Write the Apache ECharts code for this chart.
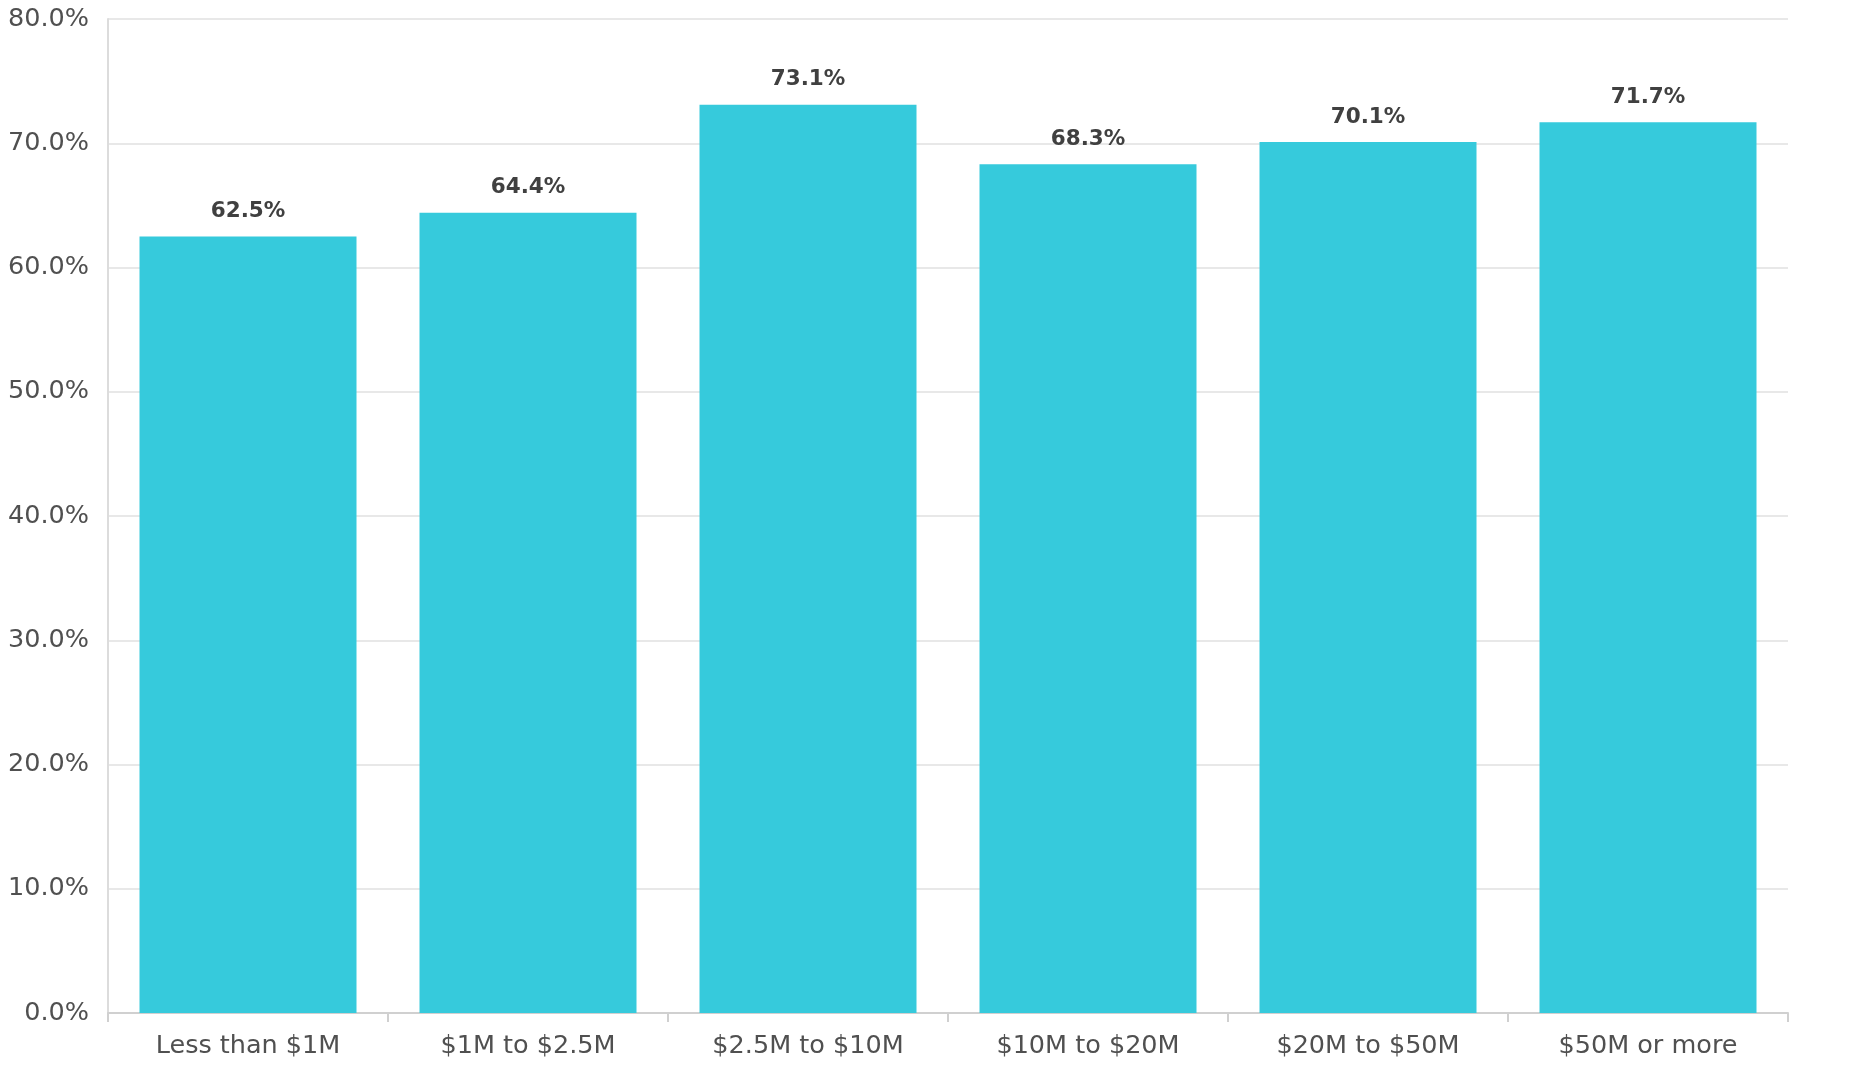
<!DOCTYPE html>
<html>
<head>
<meta charset="utf-8">
<script src="https://cdn.jsdelivr.net/npm/echarts@6/dist/echarts.min.js"></script>
<style>
html,body{margin:0;padding:0;background:#fff;}
#chart{width:1858px;height:1080px;}
</style>
</head>
<body>
<div id="chart"></div>
<script>
const categories = ['Less than $1M', '$1M to $2.5M', '$2.5M to $10M', '$10M to $20M', '$20M to $50M', '$50M or more'];
const values = [62.5, 64.4, 73.1, 68.3, 70.1, 71.7];
const yMin = 0, yMax = 80, yStep = 10;

const chart = echarts.init(document.getElementById('chart'));
chart.setOption({
  animation: false,
  backgroundColor: '#ffffff',
  grid: { left: 108, right: 70, top: 19, bottom: 67, containLabel: false },
  xAxis: {
    type: 'category',
    data: categories,
    boundaryGap: true,
    axisLine: { show: true, lineStyle: { color: '#d0d0d0', width: 2 } },
    axisTick: { show: true, length: 9, alignWithLabel: false, lineStyle: { color: '#d0d0d0', width: 2 } },
    axisLabel: { color: '#505050', fontFamily: 'DejaVu Sans', fontSize: 25.5, margin: 20 },
    splitLine: { show: false }
  },
  yAxis: {
    type: 'value',
    min: yMin, max: yMax, interval: yStep,
    axisLine: { show: true, lineStyle: { color: '#dcdcdc', width: 2 } },
    axisTick: { show: false },
    axisLabel: { color: '#505050', fontFamily: 'DejaVu Sans', fontSize: 25.5, margin: 19,
      formatter: v => v.toFixed(1) + '%' },
    splitLine: { show: true, lineStyle: { color: '#e8e8e8', width: 2 } }
  },
  series: [{
    type: 'bar',
    data: values,
    barWidth: '77.5%',
    itemStyle: { color: '#36CADC' },
    label: {
      show: true, position: 'top', distance: 14,
      color: '#404040', fontFamily: 'DejaVu Sans', fontWeight: 'bold', fontSize: 21.5,
      formatter: p => p.value.toFixed(1) + '%'
    }
  }]
});
</script>
</body>
</html>
